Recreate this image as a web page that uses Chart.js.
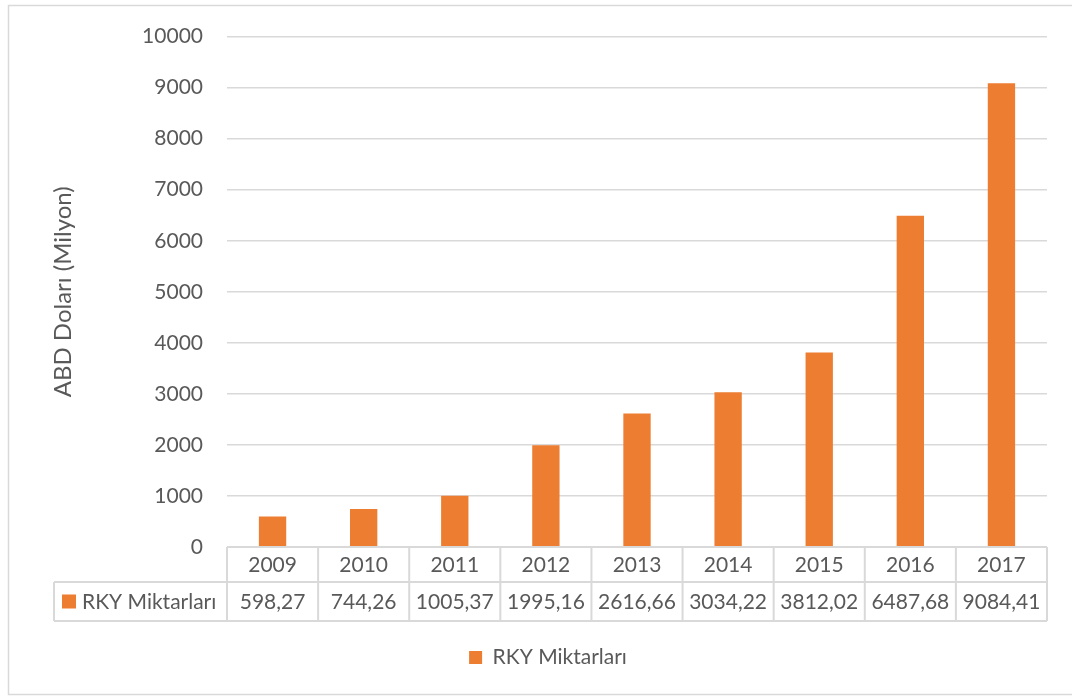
<!DOCTYPE html>
<html>
<head>
<meta charset="utf-8">
<script src="https://cdn.jsdelivr.net/npm/chart.js@4.4.1/dist/chart.umd.min.js"></script>
<style>
  html, body { margin: 0; padding: 0; background: #ffffff; }
  #wrap { position: absolute; left: 0; top: 0; width: 1072px; height: 696px; }
</style>
</head>
<body>
<div id="wrap"><canvas id="c" width="1072" height="696"></canvas></div>
<script>
const categories = ['2009', '2010', '2011', '2012', '2013', '2014', '2015', '2016', '2017'];
const seriesName = 'RKY Miktarları';
const values = [598.27, 744.26, 1005.37, 1995.16, 2616.66, 3034.22, 3812.02, 6487.68, 9084.41];
const valueLabels = ['598,27', '744,26', '1005,37', '1995,16', '2616,66', '3034,22', '3812,02', '6487,68', '9084,41'];
const yTicks = [0, 1000, 2000, 3000, 4000, 5000, 6000, 7000, 8000, 9000, 10000];
const yTitle = 'ABD Doları (Milyon)';

const FONT = 'Lato, "Open Sans", sans-serif';
const FS = 21;
const TXT = '#595959';
const LINE = '#d9d9d9';
const BAR = '#ed7d31';

const tablePlugin = {
  id: 'dataTable',
  beforeDraw(chart) {
    const ctx = chart.ctx;
    ctx.save();
    ctx.fillStyle = '#ffffff';
    ctx.fillRect(0, 0, chart.width, chart.height);
    ctx.strokeStyle = LINE;
    ctx.lineWidth = 1.5;
    ctx.strokeRect(8.5, 5.5, 1100, 689);
    ctx.restore();
  },
  afterDatasetsDraw(chart) {
    const ctx = chart.ctx;
    const x = chart.scales.x;
    const area = chart.chartArea;
    const n = categories.length;
    const half = (x.getPixelForValue(1) - x.getPixelForValue(0)) / 2;
    const r0 = area.bottom, r1 = area.bottom + 35, r2 = area.bottom + 74;
    const labelLeft = 54;
    ctx.save();
    ctx.strokeStyle = LINE;
    ctx.lineWidth = 2;
    ctx.beginPath();
    ctx.moveTo(x.getPixelForValue(0) - half, r0); ctx.lineTo(x.getPixelForValue(n - 1) + half, r0);
    ctx.moveTo(labelLeft, r1); ctx.lineTo(x.getPixelForValue(n - 1) + half, r1);
    ctx.moveTo(labelLeft, r2); ctx.lineTo(x.getPixelForValue(n - 1) + half, r2);
    ctx.moveTo(labelLeft, r1); ctx.lineTo(labelLeft, r2);
    for (let i = 0; i <= n; i++) {
      const px = x.getPixelForValue(0) - half + i * 2 * half;
      ctx.moveTo(px, r0); ctx.lineTo(px, r2);
    }
    ctx.stroke();
    ctx.fillStyle = TXT;
    ctx.font = FS + 'px ' + FONT;
    ctx.textAlign = 'center';
    ctx.textBaseline = 'middle';
    for (let i = 0; i < n; i++) {
      const px = x.getPixelForValue(i);
      ctx.fillText(categories[i], px, (r0 + r1) / 2 + 1);
      ctx.fillText(valueLabels[i], px, (r1 + r2) / 2 + 1);
    }
    ctx.fillStyle = BAR;
    ctx.fillRect(62, (r1 + r2) / 2 - 7, 14, 14);
    ctx.fillStyle = TXT;
    ctx.textAlign = 'left';
    ctx.fillText(seriesName, 82, (r1 + r2) / 2 + 1);
    ctx.restore();
  }
};

new Chart(document.getElementById('c'), {
  type: 'bar',
  data: {
    labels: categories,
    datasets: [{
      label: seriesName,
      data: values,
      backgroundColor: BAR,
      borderWidth: 0,
      categoryPercentage: 1,
      barPercentage: 0.3
    }]
  },
  options: {
    responsive: false,
    animation: false,
    devicePixelRatio: 1,
    layout: { padding: { left: 49, right: 25, top: 35, bottom: 18 } },
    plugins: {
      tooltip: { enabled: false },
      legend: {
        display: true,
        position: 'bottom',
        labels: {
          color: TXT,
          font: { family: FONT, size: FS },
          boxWidth: 13,
          boxHeight: 13,
          padding: 10
        }
      }
    },
    scales: {
      x: {
        ticks: { display: false },
        grid: { display: false },
        border: { display: false },
        afterFit(s) { s.height = 90; }
      },
      y: {
        min: 0,
        max: 10000,
        afterBuildTicks(s) { s.ticks = yTicks.map(v => ({ value: v })); },
        ticks: {
          color: TXT,
          font: { family: FONT, size: FS },
          padding: 24,
          callback: (v) => String(v)
        },
        grid: {
          color: LINE,
          lineWidth: 1.5,
          drawTicks: false,
          tickLength: 0
        },
        border: { display: false },
        title: {
          display: true,
          text: yTitle,
          color: TXT,
          font: { family: FONT, size: 24 },
          padding: { top: 0, bottom: 0 }
        },
        afterFit(s) { s.width = 178; }
      }
    }
  },
  plugins: [tablePlugin]
});
</script>
</body>
</html>
